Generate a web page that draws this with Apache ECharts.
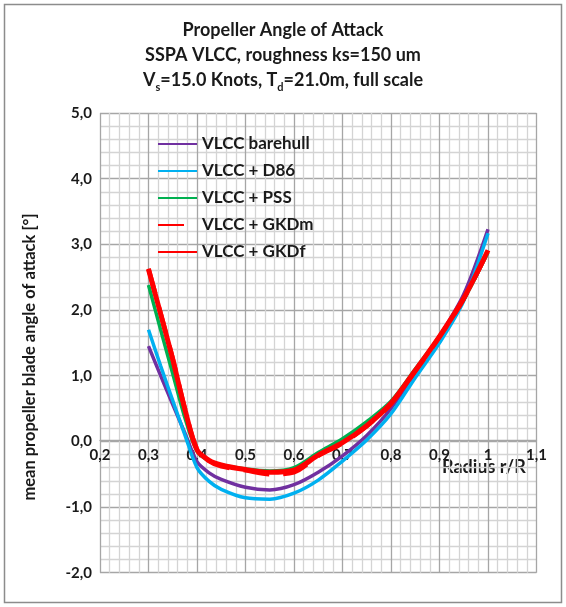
<!DOCTYPE html>
<html>
<head>
<meta charset="utf-8">
<script src="https://cdn.jsdelivr.net/npm/echarts@6/dist/echarts.min.js"></script>
<style>html,body{margin:0;padding:0;background:#fff}#c{width:566px;height:607px}</style>
</head>
<body>
<div id="c"></div>
<script>
const radius = [0.3, 0.325, 0.35, 0.375, 0.4, 0.425, 0.45, 0.5, 0.55, 0.6, 0.65, 0.7, 0.75, 0.8, 0.85, 0.9, 0.95, 1.0];
const barehull = [1.45, 1.00, 0.56, 0.13, -0.31, -0.48, -0.58, -0.70, -0.74, -0.66, -0.47, -0.22, 0.09, 0.50, 1.05, 1.60, 2.24, 3.23];
const d86 = [1.70, 1.15, 0.62, 0.10, -0.40, -0.61, -0.73, -0.86, -0.88, -0.79, -0.59, -0.30, 0.02, 0.42, 0.97, 1.50, 2.14, 3.17];
const pss = [2.38, 1.70, 1.03, 0.36, -0.15, -0.30, -0.36, -0.42, -0.45, -0.40, -0.17, 0.04, 0.30, 0.61, 1.10, 1.60, 2.16, 2.88];
const gkdm = [2.63, 1.95, 1.26, 0.50, -0.12, -0.30, -0.38, -0.44, -0.50, -0.47, -0.22, -0.03, 0.23, 0.57, 1.07, 1.59, 2.17, 2.90];
const gkdf = [2.62, 1.94, 1.25, 0.49, -0.13, -0.29, -0.36, -0.43, -0.47, -0.44, -0.21, -0.02, 0.24, 0.58, 1.08, 1.60, 2.18, 2.91];
const seriesNames = ['VLCC barehull', 'VLCC + D86', 'VLCC + PSS', 'VLCC + GKDm', 'VLCC + GKDf'];
const titleLines = ['Propeller Angle of Attack', 'SSPA VLCC, roughness ks=150 um'];
const yAxisName = 'mean propeller blade angle of attack [°]';
const xAxisName = 'Radius r/R';

const FONT = 'Lato';
const TXT = '#1a1a1a';
const fmtX = v => { const r = Math.round(v * 10) / 10; return r === 1 ? '1' : r.toFixed(1).replace('.', ','); };
const fmtY = v => (Math.round(v * 10) / 10).toFixed(1).replace('.', ',');
const pairs = arr => radius.map((x, i) => [x, arr[i]]);

const colors = ['#7030A0', '#00B0F0', '#00B050', '#FF0000', '#FF0000'];
const dataSets = [barehull, d86, pss, gkdm, gkdf];
const widths = [3.5, 3.5, 3.5, 4.5, 5];

const chart = echarts.init(document.getElementById('c'), null, {renderer: 'canvas'});
chart.setOption({
  backgroundColor: '#fff',
  animation: false,
  title: {
    left: 'center', top: 18, padding: 0,
    text: '{b|' + titleLines[0] + '}\n{b|' + titleLines[1] + '}\n{b|V}{s|s}{b|=15.0 Knots, T}{s|d}{b|=21.0m, full scale}',
    textStyle: {
      rich: {
        b: {fontFamily: FONT, fontWeight: 'bold', fontSize: 18, color: TXT, lineHeight: 25},
        s: {fontFamily: FONT, fontWeight: 'bold', fontSize: 11, color: TXT, lineHeight: 14, verticalAlign: 'bottom'}
      }
    }
  },
  graphic: [
    {type: 'rect', shape: {x: 4.5, y: 4.5, width: 557, height: 598}, style: {fill: 'none', stroke: '#8c8c8c', lineWidth: 1.5}, silent: true},
    {type: 'text', left: 442, top: 458, style: {text: xAxisName, fontFamily: FONT, fontWeight: 'bold', fontSize: 18, fill: TXT}},
    {type: 'text', x: 30, y: 357, rotation: Math.PI / 2,
     style: {text: yAxisName, fontFamily: FONT, fontWeight: 'bold', fontSize: 16.5, fill: TXT, align: 'center', verticalAlign: 'middle'}}
  ],
  legend: {
    orient: 'vertical', left: 157, top: 135, padding: 0,
    itemWidth: 39, itemHeight: 14, itemGap: 9,
    itemStyle: {opacity: 0},
    textStyle: {fontFamily: FONT, fontWeight: 'bold', fontSize: 17, color: TXT, lineHeight: 18},
    data: seriesNames
  },
  grid: {left: 100, top: 113, right: 29.5, bottom: 34.3, containLabel: false},
  xAxis: {
    type: 'value', min: 0.2, max: 1.1, interval: 0.1, offset: -132,
    axisLine: {show: true, onZero: false, lineStyle: {color: '#a6a6a6', width: 1.3}},
    axisTick: {show: false},
    axisLabel: {formatter: fmtX, fontFamily: FONT, fontWeight: 'bold', fontSize: 15, color: TXT, margin: 7},
    splitLine: {show: true, lineStyle: {color: '#a6a6a6', width: 1.3}},
    minorTick: {show: false, splitNumber: 5},
    minorSplitLine: {show: true, lineStyle: {color: '#d4d4d4', width: 1.3}}
  },
  yAxis: {
    type: 'value', min: -2, max: 5, interval: 1,
    axisLine: {show: false},
    axisTick: {show: false},
    axisLabel: {formatter: fmtY, fontFamily: FONT, fontWeight: 'bold', fontSize: 15, color: TXT, margin: 8},
    splitLine: {show: true, lineStyle: {color: '#a6a6a6', width: 1.3}},
    minorTick: {show: false, splitNumber: 5},
    minorSplitLine: {show: true, lineStyle: {color: '#d4d4d4', width: 1.3}}
  },
  series: seriesNames.map((n, i) => ({
    name: n, type: 'line', data: pairs(dataSets[i]), smooth: 0.3, symbol: 'none',
    lineStyle: {color: colors[i], width: widths[i], type: i === 3 ? [26, 14] : 'solid'},
    itemStyle: {color: colors[i]},
    z: 2 + i
  }))
});
</script>
</body>
</html>
